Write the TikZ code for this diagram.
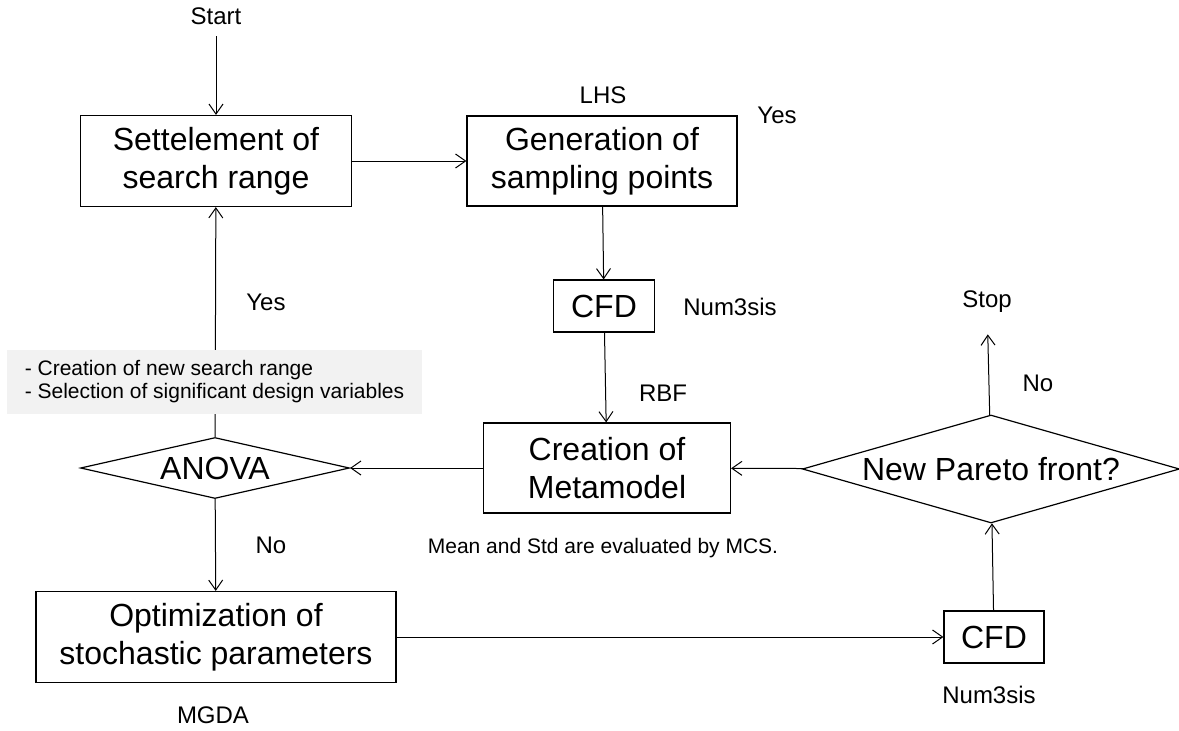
\documentclass[tikz,border=0pt]{standalone}
\usepackage{fontspec}
\setmainfont{Liberation Sans}
\usetikzlibrary{shapes.geometric,arrows.meta}
\definecolor{notegray}{RGB}{242,242,242}
\begin{document}
\begin{tikzpicture}[x=1pt,y=-1pt,
  box/.style={draw,line width=1.2pt,align=center,inner sep=0pt,font=\fontsize{32}{38}\selectfont},
  decision/.style={draw,diamond,line width=1.2pt,inner sep=0pt,font=\fontsize{32}{38}\selectfont},
  txt/.style={font=\fontsize{24}{28}\selectfont},
  arr/.style={-{Straight Barb[length=10pt,width=14pt,line width=1pt]},line width=1pt}]
\useasboundingbox (0,0) rectangle (1179,731);
% process boxes
\node[txt] (start) at (216,16) {Start};
\node[box,minimum width=271pt,minimum height=91pt] (settle) at (216,161) {Settelement of\\search range};
\node[box,minimum width=270pt,minimum height=90pt] (gen) at (602,161) {Generation of\\sampling points};
\node[box,minimum width=101pt,minimum height=52pt] (cfdA) at (604,306) {CFD};
\node[box,minimum width=247pt,minimum height=90pt] (meta) at (607,468) {Creation of\\Metamodel};
\node[decision,aspect=3.5,minimum width=377pt,minimum height=108pt] (pareto) at (991,469) {New Pareto front?};
\node[decision,aspect=4.4,minimum width=269pt,minimum height=61pt] (anova) at (215,468) {ANOVA};
\node[box,minimum width=360pt,minimum height=91pt] (opt) at (216,637) {Optimization of\\stochastic parameters};
\node[box,minimum width=100pt,minimum height=52pt] (cfdB) at (994,637) {CFD};
\node[txt] (stop) at (987,302) {Stop};
% labels
\node[txt] (lhs) at (603,95) {LHS};
\node[txt] (yesA) at (777,115) {Yes};
\node[txt] (numA) at (730,307) {Num3sis};
\node[txt] (rbf) at (663,393) {RBF};
\node[txt] (yesB) at (266,302) {Yes};
\node[txt] (noA) at (271,545) {No};
\node[txt] (noB) at (1038,383) {No};
\node[txt] (mgda) at (213,715) {MGDA};
\node[txt] (numB) at (989,695) {Num3sis};
\node[font=\fontsize{21}{23}\selectfont] (mcs) at (603,548) {Mean and Std are evaluated by MCS.};
% connectors
\draw[arr,shorten <=8pt] (start) -- (settle);
\draw[arr] (settle) -- (gen);
\draw[arr] (gen) -- (cfdA);
\draw[arr] (cfdA) -- (meta);
\draw[arr] (pareto) -- (meta);
\draw[arr] (meta) -- (anova);
\draw[arr] (anova) -- (settle);
\draw[arr] (anova) -- (opt);
\draw[arr] (opt) -- (cfdB);
\draw[arr] (cfdB) -- (pareto);
\draw[arr,shorten >=18pt] (pareto) -- (stop);
\node[fill=notegray,minimum width=415pt,minimum height=64pt,inner sep=0pt,align=left,font=\fontsize{21}{23}\selectfont] (note) at (214.5,382) {- Creation of new search range\\- Selection of significant design variables};
\end{tikzpicture}
\end{document}
